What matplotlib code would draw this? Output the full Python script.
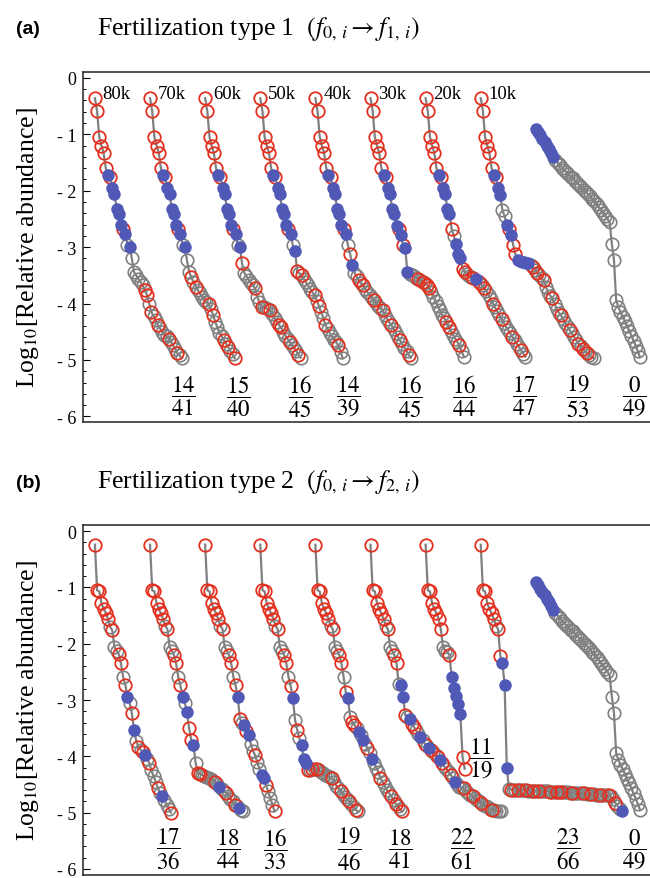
import matplotlib
matplotlib.use("Agg")
import matplotlib.pyplot as plt
from matplotlib.ticker import FixedLocator, MultipleLocator

plt.rcParams["font.family"] = ["Liberation Serif", "DejaVu Serif"]
plt.rcParams["mathtext.fontset"] = "stix"

# ---------------------------------------------------------------------------
# Data: log10 relative abundance by rank, one curve per fertilization run.
# Point classes: R = red open circle, B = blue dot, G = grey open circle.
# ---------------------------------------------------------------------------
A_TAGS = ["80k", "70k", "60k", "50k", "40k", "30k", "20k", "10k"]
A_NUM = [14, 15, 16, 14, 16, 16, 17, 19, 0]
A_DEN = [41, 40, 45, 39, 45, 44, 47, 53, 49]
B_NUM = [17, 18, 16, 19, 18, 22, 11, 23, 0]
B_DEN = [36, 44, 33, 46, 41, 61, 19, 66, 49]

# reference community (no fertilization), same in both panels
REF_Y = [-0.90, -0.96, -1.02, -1.08, -1.14, -1.20, -1.26, -1.33, -1.40,
         -1.46, -1.50, -1.55, -1.59, -1.63, -1.67, -1.71, -1.75, -1.78, -1.82,
         -1.86, -1.90, -1.94, -1.98, -2.02, -2.06, -2.10, -2.15, -2.19, -2.24,
         -2.29, -2.34, -2.39, -2.44, -2.50, -2.56, -2.94, -3.23, -3.94,
         -4.06, -4.15, -4.23, -4.31, -4.40, -4.48, -4.57, -4.66, -4.75, -4.85, -4.95]
REF_C = "BBBBBBBBB" + "GGGGGGGGGGGGGGGGGGGGGGGGGGGGGGGGGGGGGGGG"

# panel (a): type 1 fertilization
A80_Y = [-0.36, -0.59, -1.05, -1.20, -1.33, -1.60, -1.72, -1.75, -1.96, -2.05,
         -2.32, -2.41, -2.61, -2.68, -2.76, -2.97, -3.00, -3.20, -3.44, -3.50,
         -3.56, -3.62, -3.68, -3.76, -3.85, -4.00, -4.15, -4.22, -4.30, -4.38,
         -4.44, -4.50, -4.55, -4.58, -4.62, -4.68, -4.74, -4.80, -4.88, -4.92, -4.97]
A80_C = "RRRRRRBRBBBBBRBGB" + "GGGGGGRRGRGGRGGGGRGGGRGG"

A70_Y = [-0.36, -0.59, -1.05, -1.20, -1.33, -1.60, -1.72, -1.75, -1.96, -2.05,
         -2.32, -2.41, -2.61, -2.68, -2.76, -2.97, -3.00, -3.23, -3.44, -3.53,
         -3.62, -3.70, -3.76, -3.82, -3.88, -3.93, -3.97, -4.00, -4.10, -4.20,
         -4.32, -4.42, -4.52, -4.58, -4.65, -4.71, -4.77, -4.84, -4.90, -4.97]
A70_C = "RRRRRRBRBBBBBRBGB" + "GGRGRGGGGGRGRGGGGRGRGGR"

A60_Y = [-0.36, -0.59, -1.05, -1.20, -1.33, -1.60, -1.72, -1.75, -1.96, -2.05,
         -2.32, -2.41, -2.61, -2.68, -2.76, -2.97, -3.00, -3.29, -3.45, -3.52,
         -3.58, -3.63, -3.68, -3.73, -3.88, -3.98, -4.06, -4.07, -4.08, -4.10,
         -4.12, -4.18, -4.26, -4.33, -4.38, -4.42, -4.50, -4.57, -4.63, -4.68,
         -4.74, -4.79, -4.84, -4.91, -4.96]
A60_C = "RRRRRRBRBBBBBRBGB" + "RGGGGGRGGRGGGRGGGRRGGGRGGGRG"

A50_Y = [-0.36, -0.59, -1.05, -1.20, -1.33, -1.60, -1.72, -1.75, -1.96, -2.05,
         -2.32, -2.41, -2.61, -2.68, -2.76, -2.97, -3.06, -3.43, -3.46, -3.50,
         -3.56, -3.62, -3.68, -3.74, -3.80, -3.85, -3.95, -4.04, -4.15, -4.25,
         -4.38, -4.45, -4.52, -4.58, -4.64, -4.69, -4.74, -4.86, -4.97]
A50_C = "RRRRRRBRBBBBBRBGB" + "RGRGGGGGRGRGGRGGGGGRGG"

A40_Y = [-0.36, -0.59, -1.05, -1.20, -1.33, -1.60, -1.72, -1.75, -1.96, -2.05,
         -2.32, -2.41, -2.61, -2.68, -2.76, -2.97, -3.12, -3.32, -3.45, -3.52,
         -3.59, -3.64, -3.68, -3.74, -3.80, -3.85, -3.90, -3.94, -3.99, -4.04,
         -4.08, -4.12, -4.20, -4.27, -4.33, -4.38, -4.45, -4.52, -4.59, -4.65,
         -4.72, -4.78, -4.84, -4.91, -4.96]
A40_C = "RRRRRRBRBBBBBRB" + "GRBGGRGRGGGGRGGGRGGGRGGGRGGGRG"

A30_Y = [-0.36, -0.59, -1.05, -1.20, -1.33, -1.60, -1.72, -1.75, -1.96, -2.05,
         -2.32, -2.41, -2.62, -2.68, -2.78, -2.97, -3.02, -3.44, -3.48, -3.50,
         -3.52, -3.54, -3.56, -3.59, -3.62, -3.64, -3.67, -3.72, -3.80, -3.88,
         -3.96, -4.04, -4.12, -4.20, -4.26, -4.32, -4.41, -4.48, -4.55, -4.62,
         -4.68, -4.74, -4.85, -4.94]
A30_C = "RRRRRRBRBBBBBRBRB" + "BGGGGRGRGRRGGGGGGGRRGGGGRGG"

A20_Y = [-0.36, -0.59, -1.05, -1.20, -1.33, -1.60, -1.72, -1.75, -1.96, -2.05,
         -2.32, -2.41, -2.68, -2.80, -2.94, -3.12, -3.20, -3.38, -3.44, -3.48,
         -3.51, -3.53, -3.55, -3.56, -3.60, -3.64, -3.68, -3.73, -3.78, -3.85,
         -3.92, -4.00, -4.07, -4.14, -4.21, -4.27, -4.34, -4.41, -4.47, -4.53,
         -4.59, -4.65, -4.71, -4.77, -4.83, -4.89, -4.94]
A20_C = "RRRRRRBRBBBBRGBBBRRGGGRBGRGRGGGRGGGRGGGGRGGGRGG"

A10_Y = [-0.36, -0.59, -1.05, -1.20, -1.33, -1.60, -1.72, -1.75, -1.96, -2.08,
         -2.35, -2.45, -2.61, -2.68, -2.79, -2.97, -3.13, -3.23, -3.25, -3.26,
         -3.27, -3.28, -3.29, -3.31, -3.35, -3.40, -3.45, -3.50, -3.55, -3.59,
         -3.70, -3.80, -3.86, -3.91, -4.00, -4.10, -4.16, -4.21, -4.28, -4.35,
         -4.41, -4.47, -4.53, -4.59, -4.65, -4.71, -4.76, -4.80, -4.84, -4.88,
         -4.92, -4.95, -4.97]
A10_C = "RRRRRRBRBBGGBRBRRBBBBBBGRGRGGRGGGRGGGRGGGRGGGRGRGRGGG"

# panel (b): type 2 fertilization
B80_Y = [-0.24, -1.05, -1.07, -1.28, -1.38, -1.45, -1.56, -1.70, -1.76, -2.06,
         -2.12, -2.19, -2.35, -2.59, -2.73, -2.95, -3.05, -3.23, -3.53, -3.72,
         -3.83, -3.88, -3.93, -3.98, -4.05, -4.11, -4.25, -4.35, -4.45, -4.57,
         -4.65, -4.71, -4.78, -4.86, -4.93, -5.00]
B80_C = "RRRRRRRGRGGRRGRBGRBGRGRBGRGGGRGBGGGR"

B70_Y = [-0.24, -1.05, -1.07, -1.28, -1.38, -1.46, -1.56, -1.68, -1.74, -2.06,
         -2.12, -2.20, -2.35, -2.59, -2.74, -2.94, -3.05, -3.21, -3.50, -3.71,
         -3.80, -4.12, -4.30, -4.31, -4.33, -4.35, -4.37, -4.39, -4.41, -4.43,
         -4.45, -4.50, -4.54, -4.58, -4.62, -4.65, -4.70, -4.75, -4.80, -4.86,
         -4.89, -4.92, -4.95, -4.98]
B70_C = "RRRRRRRGRGGRRGRBGBRRBGRRGGGGGGRGBGGRGGGRGBGG"

B60_Y = [-0.24, -1.05, -1.07, -1.28, -1.38, -1.46, -1.56, -1.68, -1.74, -2.06,
         -2.12, -2.20, -2.35, -2.59, -2.74, -2.94, -3.33, -3.40, -3.45, -3.55,
         -3.63, -3.78, -3.90, -3.98, -4.10, -4.22, -4.34, -4.38, -4.51, -4.62,
         -4.74, -4.86, -4.98]
B60_C = "RRRRRRRGRGGRRGRBRGBRBGGRGGBBRGGGR"

B50_Y = [-0.24, -1.05, -1.07, -1.28, -1.38, -1.46, -1.56, -1.68, -1.74, -2.06,
         -2.12, -2.20, -2.35, -2.59, -2.75, -2.96, -3.35, -3.53, -3.68, -3.80,
         -4.04, -4.12, -4.24, -4.24, -4.23, -4.22, -4.23, -4.25, -4.28, -4.30,
         -4.33, -4.35, -4.37, -4.39, -4.45, -4.52, -4.57, -4.62, -4.67, -4.72,
         -4.76, -4.80, -4.85, -4.90, -4.95, -4.98]
B50_C = "RRRRRRRGRGGRRGRBGRGBBBRGRGRGGGGGGRGGGRGGGRGGRG"

B40_Y = [-0.24, -1.05, -1.07, -1.28, -1.38, -1.46, -1.56, -1.68, -1.74, -2.06,
         -2.12, -2.20, -2.35, -2.59, -2.86, -2.96, -3.30, -3.39, -3.44, -3.50,
         -3.56, -3.63, -3.71, -3.78, -3.86, -3.95, -4.04, -4.12, -4.20, -4.28,
         -4.39, -4.46, -4.53, -4.60, -4.66, -4.71, -4.78, -4.84, -4.89, -4.94,
         -4.98]
B40_C = "RRRRRRRGRGGRRGRBGRRGBGBGRGBGGGRGGGGRGRGGR"

B30_Y = [-0.24, -1.05, -1.07, -1.28, -1.38, -1.46, -1.56, -1.68, -1.74, -2.06,
         -2.12, -2.20, -2.35, -2.71, -2.74, -2.94, -3.27, -3.30, -3.34, -3.42,
         -3.48, -3.54, -3.60, -3.65, -3.71, -3.78, -3.82, -3.86, -3.88, -3.93,
         -3.98, -4.02, -4.07, -4.12, -4.18, -4.23, -4.28, -4.33, -4.39, -4.45,
         -4.50, -4.54, -4.56, -4.57, -4.61, -4.65, -4.68, -4.71, -4.74, -4.77,
         -4.80, -4.83, -4.86, -4.88, -4.90, -4.93, -4.95, -4.96, -4.97, -4.97,
         -4.98]
B30_C = "RRRRRRRGRGGRRGBBRGBRRGGBGRGBRGGRBRGGGRGBGGGRGGGRGGGRGGGGRGGGG"

B20_Y = [-0.24, -1.05, -1.07, -1.28, -1.38, -1.46, -1.56, -1.74, -2.06, -2.12,
         -2.15, -2.20, -2.59, -2.78, -2.93, -3.07, -3.24, -4.01, -4.22]
B20_C = "RRRRRRRRGGGRBBBBBRR"

B10_Y = [-0.24, -1.05, -1.07, -1.28, -1.38, -1.46, -1.56, -1.68, -1.74, -2.21,
         -2.35, -2.73, -4.20, -4.58, -4.59, -4.59, -4.59, -4.60, -4.60, -4.60,
         -4.60, -4.60, -4.61, -4.61, -4.61, -4.61, -4.61, -4.62, -4.62, -4.62,
         -4.62, -4.62, -4.63, -4.63, -4.63, -4.63, -4.63, -4.64, -4.64, -4.64,
         -4.64, -4.65, -4.65, -4.65, -4.65, -4.66, -4.66, -4.66, -4.66, -4.67,
         -4.67, -4.67, -4.67, -4.68, -4.68, -4.68, -4.68, -4.69, -4.69, -4.69,
         -4.71, -4.76, -4.83, -4.88, -4.93, -4.97]
B10_C = "RRRRRRRGRRBBBGRGGRGGGRGGRGGRGGGGRGGRGRGGGGRGGGGRGGGRGGGRGGGRGGRGGB"

A_CURVES = [(A80_Y, A80_C), (A70_Y, A70_C), (A60_Y, A60_C), (A50_Y, A50_C),
            (A40_Y, A40_C), (A30_Y, A30_C), (A20_Y, A20_C), (A10_Y, A10_C),
            (REF_Y, REF_C)]
B_CURVES = [(B80_Y, B80_C), (B70_Y, B70_C), (B60_Y, B60_C), (B50_Y, B50_C),
            (B40_Y, B40_C), (B30_Y, B30_C), (B20_Y, B20_C), (B10_Y, B10_C),
            (REF_Y, REF_C)]

# ---------------------------------------------------------------------------
# Layout / style
# ---------------------------------------------------------------------------
GAP = 25.4                      # x spacing between curves (in rank units)
A_FRAC_AT = [40.7, 40.7, 43.8, 40.7, 43.8, 43.3, 45.6, 45.2, 45.6]
B_FRAC_AT = [33.8, 36.0, 32.3, 41.0, 39.2, 42.5, 25.7, 40.6, 45.6]
B_FRAC_Y = [-5.63, -5.63, -5.63, -5.63, -5.63, -5.63, -4.02, -5.63, -5.63]

RED = "#E3301F"
BLUE = "#5059B6"
GREY = "#808080"

W, H = 650, 879


def draw_curve(ax, x0, ys, cats):
    if len(ys) != len(cats):
        print("length mismatch", len(ys), len(cats))
    xs = [x0 + k for k in range(len(ys))]
    ax.plot(xs, ys, color=GREY, lw=1.6, zorder=1)
    styles = [
        ("G", dict(mfc="none", mec=GREY, ms=9, mew=1.2, zorder=2)),
        ("R", dict(mfc="none", mec=RED, ms=9, mew=1.3, zorder=3)),
        ("B", dict(mfc=BLUE, mec=BLUE, ms=9, mew=0, zorder=4)),
    ]
    for code, kw in styles:
        px = [x for x, c in zip(xs, cats) if c == code]
        py = [y for y, c in zip(ys, cats) if c == code]
        if px:
            ax.plot(px, py, ls="none", marker="o", **kw)


def style_axes(ax):
    ax.set_xlim(-5.5, 255.8)
    ax.set_ylim(-6.1, 0.11)
    ax.yaxis.set_major_locator(FixedLocator([0, -1, -2, -3, -4, -5, -6]))
    ax.set_yticklabels(["0", "- 1", "- 2", "- 3", "- 4", "- 5", "- 6"], fontsize=13)
    ax.yaxis.set_minor_locator(MultipleLocator(0.2))
    ax.tick_params(axis="y", which="major", direction="in", length=5, width=0.8,
                   pad=5, left=True, right=False)
    ax.tick_params(axis="y", which="minor", direction="in", length=2.5, width=0.7,
                   left=True, right=False)
    ax.set_xticks([])
    ax.spines["right"].set_visible(False)
    for s in ("left", "top", "bottom"):
        ax.spines[s].set_linewidth(1.1)
        ax.spines[s].set_color("#222222")


fig = plt.figure(figsize=(W / 100, H / 100), dpi=100)
ax_a = fig.add_axes([83 / W, 1 - 423 / H, 1 - 83 / W, 350.3 / H])
ax_b = fig.add_axes([83 / W, 1 - 875.5 / H, 1 - 83 / W, 349.5 / H])

for j, (ys, cats) in enumerate(A_CURVES):
    draw_curve(ax_a, j * GAP, ys, cats)
    ax_a.text(j * GAP + A_FRAC_AT[j], -5.63,
              r"$\dfrac{%d}{%d}$" % (A_NUM[j], A_DEN[j]),
              ha="center", va="center", fontsize=16.5)
for j, tag in enumerate(A_TAGS):
    ax_a.text(j * GAP + 3.6, -0.27, tag, ha="left", va="center", fontsize=13.5)

for j, (ys, cats) in enumerate(B_CURVES):
    draw_curve(ax_b, j * GAP, ys, cats)
    ax_b.text(j * GAP + B_FRAC_AT[j], B_FRAC_Y[j],
              r"$\dfrac{%d}{%d}$" % (B_NUM[j], B_DEN[j]),
              ha="center", va="center", fontsize=16.5)

for ax in (ax_a, ax_b):
    style_axes(ax)

# panel letters, titles and y labels
for letter, title, base_px, top_px, bot_px in [
    ("(a)", r"Fertilization type 1  $(f_{0,\,i}\rightarrow f_{1,\,i})$", 34.5, 72.7, 423),
    ("(b)", r"Fertilization type 2  $(f_{0,\,i}\rightarrow f_{2,\,i})$", 488, 526, 876),
]:
    fig.text(16 / W, 1 - base_px / H, letter, ha="left", va="baseline",
             fontsize=14, fontweight="bold", family=["Liberation Sans", "DejaVu Sans"])
    fig.text(97 / W, 1 - base_px / H, title, ha="left", va="baseline", fontsize=18.6)
    fig.text(28 / W, 1 - (top_px + bot_px) / 2 / H,
             r"Log$_{10}$[Relative abundance]", rotation=90,
             ha="center", va="center", fontsize=18.5)

fig.savefig("out.png", dpi=100)
